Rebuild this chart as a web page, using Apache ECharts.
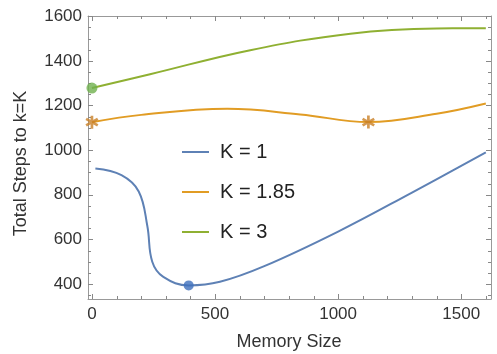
<!DOCTYPE html>
<html>
<head>
<meta charset="utf-8">
<script src="https://cdn.jsdelivr.net/npm/echarts@6/dist/echarts.min.js"></script>
<style>html,body{margin:0;padding:0;background:#fff}#c{width:497px;height:354px}</style>
</head>
<body>
<div id="c"></div>
<script>
// ---- data ----
const seriesNames = ['K = 1', 'K = 1.85', 'K = 3'];
const k1Mem = [14, 120, 190, 225, 245, 290, 393, 520, 700, 1000, 1300, 1600];
const k1Val = [918, 888, 815, 660, 500, 432, 394, 410, 480, 635, 810, 990];
const k185Mem = [0, 200, 550, 846, 1123, 1400, 1600];
const k185Val = [1125, 1158, 1185, 1160, 1126, 1163, 1209];
const k3Mem = [0, 236, 643, 1050, 1400, 1600];
const k3Val = [1278, 1340, 1448, 1522, 1545, 1546];
const k1MinPoint = [393, 394];
const k185Stars = [[0, 1125], [1123, 1126]];
const k3StartPoint = [0, 1278];
const xMajorTicks = [0, 500, 1000, 1500];
const xMinorTicks = [100, 200, 300, 400, 600, 700, 800, 900, 1100, 1200, 1300, 1400, 1600];
const yMajorTicks = [400, 600, 800, 1000, 1200, 1400, 1600];
const yMinorTicks = [350, 450, 500, 550, 650, 700, 750, 850, 900, 950, 1050, 1100, 1150, 1250, 1300, 1350, 1450, 1500, 1550];
const xTitle = 'Memory Size';
const yTitle = 'Total Steps to k=K';

// ---- styles ----
const colors = ['#5E81B5', '#E19C24', '#8FB032'];
const frameColor = '#999';
const tickColor = '#888';
const font = '"Liberation Sans", Arial, sans-serif';
const XMIN = -16, XMAX = 1621, YMIN = 333, YMAX = 1601;
const starPath = 'path://M-2,-10L2,-10L2,10L-2,10Z M7.66,-6.73L9.66,-3.27L-7.66,6.73L-9.66,3.27Z M-9.66,-3.27L-7.66,-6.73L9.66,3.27L7.66,6.73Z';

function zip(a, b) { return a.map((v, i) => [v, b[i]]); }

// frame ticks: [value, kind] kind 0 x-major, 1 x-minor, 2 y-major, 3 y-minor
const tickData = []
  .concat(xMajorTicks.map(v => [v, 0]))
  .concat(xMinorTicks.map(v => [v, 1]))
  .concat(yMajorTicks.map(v => [v, 2]))
  .concat(yMinorTicks.map(v => [v, 3]));

function renderTick(params, api) {
  const v = api.value(0), kind = api.value(1);
  const len = (kind === 0 || kind === 2) ? 5 : 3;
  const style = { stroke: tickColor, lineWidth: 1 };
  let a, b;
  if (kind < 2) {
    a = api.coord([v, YMIN]); b = api.coord([v, YMAX]);
    const x = Math.round(a[0]) + 0.5;
    return { type: 'group', children: [
      { type: 'line', shape: { x1: x, y1: a[1], x2: x, y2: a[1] - len }, style: style },
      { type: 'line', shape: { x1: x, y1: b[1], x2: x, y2: b[1] + len }, style: style }
    ] };
  } else {
    a = api.coord([XMIN, v]); b = api.coord([XMAX, v]);
    const y = Math.round(a[1]) + 0.5;
    return { type: 'group', children: [
      { type: 'line', shape: { x1: a[0], y1: y, x2: a[0] + len, y2: y }, style: style },
      { type: 'line', shape: { x1: b[0], y1: y, x2: b[0] - len, y2: y }, style: style }
    ] };
  }
}

function mkAx(pos, isX, ticks, showLabel) {
  return {
    type: 'value', position: pos, min: isX ? XMIN : YMIN, max: isX ? XMAX : YMAX,
    axisLine: { show: true, onZero: false, lineStyle: { color: frameColor, width: 1 } },
    axisTick: { show: false },
    axisLabel: showLabel ? {
      show: true, customValues: ticks, formatter: v => String(v),
      color: '#333', fontSize: 17, fontFamily: font, margin: isX ? 7 : 6
    } : { show: false },
    splitLine: { show: false }
  };
}

const chart = echarts.init(document.getElementById('c'), null, { renderer: 'canvas' });
chart.setOption({
  animation: false,
  grid: { left: 88, right: 6, top: 16, bottom: 55, containLabel: false },
  xAxis: [ mkAx('bottom', true, xMajorTicks, true), mkAx('top', true, xMajorTicks, false) ],
  yAxis: [ mkAx('left', false, yMajorTicks, true), mkAx('right', false, yMajorTicks, false) ],
  legend: {
    orient: 'vertical', left: 182, top: 141, padding: 0,
    itemWidth: 27, itemHeight: 2, itemGap: 18, icon: 'rect',
    textStyle: { fontSize: 20, fontFamily: font, color: '#222', lineHeight: 22, padding: [0, 0, 0, 6] },
    data: seriesNames
  },
  graphic: [
    { type: 'text', x: 289, y: 342, style: { text: xTitle, font: '18px ' + font, fill: '#333', align: 'center', verticalAlign: 'middle' } },
    { type: 'text', x: 21, y: 163.5, rotation: Math.PI / 2, style: { text: yTitle, font: '18px ' + font, fill: '#333', align: 'center', verticalAlign: 'middle' } }
  ],
  series: [
    { name: seriesNames[0], type: 'line', smooth: 0.4, showSymbol: false, symbol: 'none', data: zip(k1Mem, k1Val), color: colors[0], lineStyle: { width: 2 } },
    { name: seriesNames[1], type: 'line', smooth: 0.4, showSymbol: false, symbol: 'none', data: zip(k185Mem, k185Val), color: colors[1], lineStyle: { width: 2 } },
    { name: seriesNames[2], type: 'line', smooth: 0.4, showSymbol: false, symbol: 'none', data: zip(k3Mem, k3Val), color: colors[2], lineStyle: { width: 2 } },
    { type: 'scatter', data: [k1MinPoint], symbol: 'circle', symbolSize: 10, itemStyle: { color: '#3d6fbd' }, z: 5 },
    { type: 'scatter', data: k185Stars, symbol: starPath, symbolSize: 13, itemStyle: { color: '#c97f25' }, z: 5 },
    { type: 'scatter', data: [k3StartPoint], symbol: 'circle', symbolSize: 11, itemStyle: { color: '#6fb04e' }, z: 5 },
    { type: 'custom', data: tickData, renderItem: renderTick, clip: false, silent: true, z: 1 }
  ]
});
</script>
</body>
</html>
